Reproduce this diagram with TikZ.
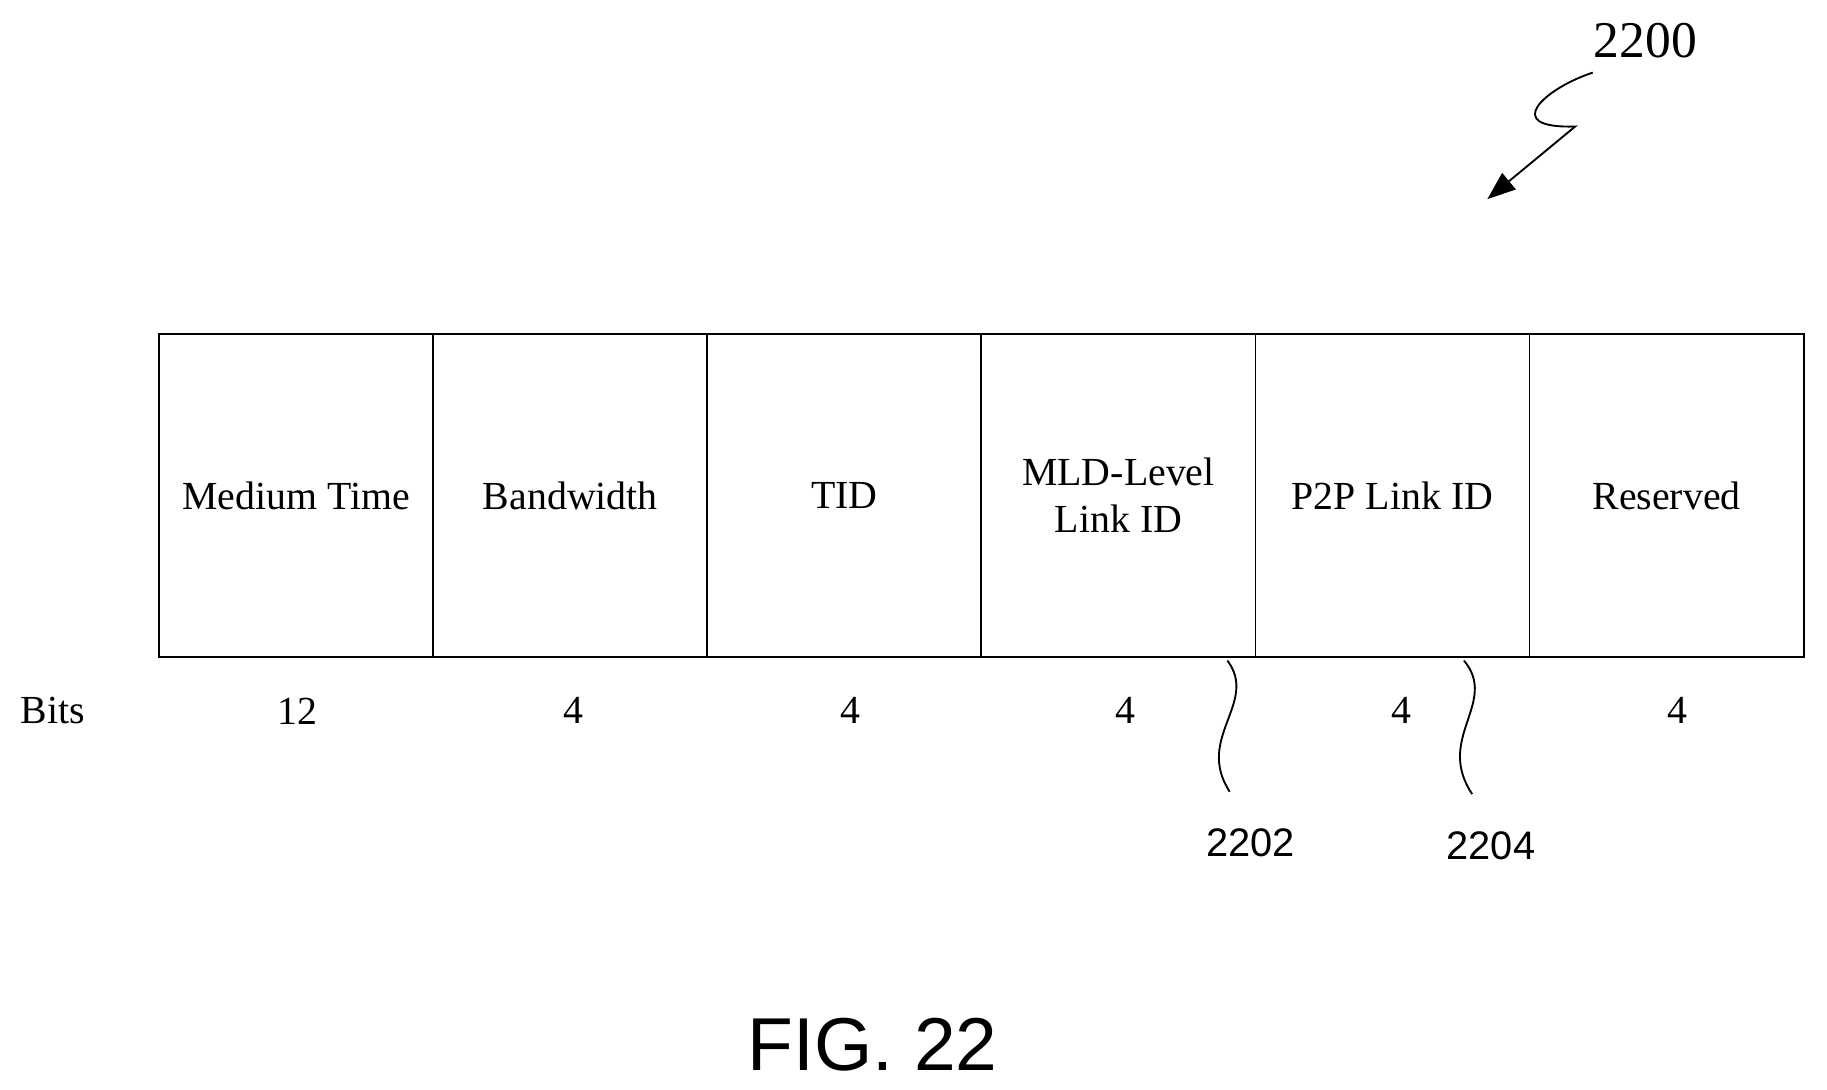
\documentclass[tikz,border=0pt]{standalone}
\usepackage{fontspec}
\setmainfont{Liberation Serif}
\setsansfont{Liberation Sans}
\usetikzlibrary{positioning,arrows.meta}
\begin{document}
\begin{tikzpicture}[x=0.5pt,y=-0.5pt,
field/.style={draw=black, thick, minimum width=117pt, minimum height=138pt, inner sep=0pt, outer sep=0pt, align=center, font=\fontsize{17}{20}\selectfont},
bitnum/.style={font=\fontsize{17}{20}\selectfont},
refnum/.style={font=\sffamily\fontsize{17}{20}\selectfont},
]
\useasboundingbox (0,0) rectangle (1560,930);
%Fields
\node[field, anchor=north west] at (136,285) (medium) {Medium Time};
\node[field, right=0pt of medium] (bw) {Bandwidth};
\node[field, right=0pt of bw] (tid) {TID};
\node[field, right=0pt of tid] (mld) {MLD-Level\\Link ID};
\node[field, right=0pt of mld] (p2p) {P2P Link ID};
\node[field, right=0pt of p2p] (res) {Reserved};
%Bits
\node[bitnum] at (45,607) (bits) {Bits};
\node[bitnum] at (254,607) (b1) {12};
\node[bitnum] at (490,607) (b2) {4};
\node[bitnum] at (726,607) (b3) {4};
\node[bitnum] at (961,607) (b4) {4};
\node[bitnum] at (1197,607) (b5) {4};
\node[bitnum] at (1432,607) (b6) {4};
%Reference numbers
\node[font=\fontsize{22}{26}\selectfont] at (1405,35) (n2200) {2200};
\node[refnum] at (1068,720) (n2202) {2202};
\node[refnum] at (1273,722) (n2204) {2204};
\node[font=\sffamily\fontsize{32}{38}\selectfont] at (745,892) (fig) {FIG. 22};
\coordinate (c2202) at (1048,564);
\coordinate (c2204) at (1250,564);
\coordinate (tip) at (1270,170);
%Leaders
\draw[thick] (c2202) .. controls (1075,600) and (1020,630) .. (1050,676);
\draw[thick] (c2204) .. controls (1280,600) and (1225,630) .. (1257,678);
\draw[thick, -{Triangle[length=12pt,width=9pt]}] (1360,62) .. controls (1320,75) and (1280,110) .. (1345,108) -- (tip);
\end{tikzpicture}
\end{document}
